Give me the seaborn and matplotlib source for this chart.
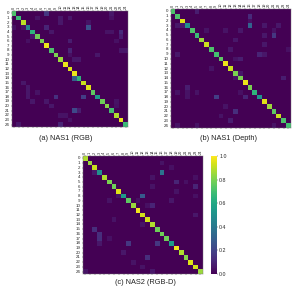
import numpy as np
import seaborn as sns
import matplotlib.pyplot as plt

labels = [str(i) for i in range(25)]

diag_a = [.72, .68, .90, .45, .65, .78, .80, .97, .72, .80, .85, .97, .95,
          .97, .65, .92, .95, .75, .55, .78, .82, .70, .88, .97, .68]
diag_b = [.72, .72, .95, .50, .72, .68, .85, .92, .72, .70, .75, .97, .92,
          .80, .80, .97, .80, .65, .52, .95, .85, .75, .92, .72, .70]
diag_c = [.88, .85, .92, .50, .88, .80, .78, .95, .55, .75, .85, .98, .93,
          .93, .88, .78, .78, .78, .55, .98, .88, .82, .95, .93, .85]

# off diagonal confusions as (row, col, value)
off_a = [(0, 7, .16), (0, 21, .06), (1, 21, .04), (1, 5, .05), (1, 10, .06), (2, 10, .06),
         (1, 12, .06), (3, 0, .04), (3, 2, .04), (3, 7, .10), (3, 16, .25), (2, 16, .05),
         (4, 20, .05), (4, 21, .05), (4, 23, .12), (5, 23, .08), (4, 8, .06), (5, 4, .06),
         (6, 3, .04), (6, 12, .08), (6, 22, .04), (8, 12, .10), (9, 12, .04), (8, 23, .06),
         (8, 24, .06), (9, 18, .06), (10, 13, .06), (10, 14, .06), (14, 13, .30), (15, 2, .06),
         (16, 3, .06), (17, 3, .06), (18, 3, .06), (17, 5, .05), (18, 9, .14), (18, 15, .18),
         (19, 4, .06), (19, 7, .06), (19, 22, .05), (20, 8, .06), (20, 22, .04), (21, 13, .22),
         (21, 14, .08), (22, 10, .05), (22, 11, .05), (23, 12, .05), (24, 1, .06), (24, 10, .10)]
off_b = [(0, 5, .08), (1, 16, .12), (2, 16, .04), (3, 16, .32), (3, 1, .06), (3, 2, .06),
         (3, 19, .06), (3, 22, .06), (4, 7, .05), (4, 11, .05), (4, 14, .06), (4, 21, .05),
         (5, 19, .06), (5, 21, .16), (6, 13, .06), (7, 19, .06), (8, 12, .06), (8, 24, .04),
         (9, 1, .06), (9, 18, .10), (9, 19, .06), (10, 13, .05), (10, 14, .08), (12, 8, .05),
         (13, 14, .06), (14, 13, .05), (14, 23, .08), (16, 3, .08), (17, 1, .05), (17, 3, .05),
         (17, 5, .05), (17, 14, .04), (18, 3, .05), (18, 9, .18), (18, 15, .10), (20, 11, .05),
         (21, 13, .13), (22, 10, .05), (23, 12, .08), (24, 1, .05), (24, 5, .05), (24, 21, .05)]
off_c = [(1, 16, .05), (2, 18, .04), (3, 16, .38), (3, 2, .06), (4, 14, .05), (4, 23, .04),
         (5, 19, .10), (5, 21, .04), (6, 14, .05), (6, 23, .10), (7, 19, .05), (8, 7, .05),
         (8, 12, .28), (8, 23, .04), (9, 5, .05), (9, 11, .04), (9, 18, .06), (10, 13, .04),
         (10, 14, .10), (12, 23, .06), (13, 6, .05), (14, 12, .05), (15, 2, .13), (16, 3, .13),
         (17, 3, .13), (17, 5, .04), (18, 3, .06), (18, 9, .16), (18, 15, .16), (20, 8, .06),
         (21, 13, .13), (22, 10, .05), (23, 12, .05), (24, 0, .05), (24, 14, .06)]

captions = ["(a) NAS1 (RGB)", "(b) NAS1 (Depth)", "(c) NAS2 (RGB-D)"]


def build_matrix(diag, off):
    mat = np.diag(diag)
    for r, c, v in off:
        mat[r, c] = v
    return mat


def px_rect(x0, y0, x1, y1, w=296, h=287):
    return [x0 / w, 1 - y1 / h, (x1 - x0) / w, (y1 - y0) / h]


def draw_matrix(ax, diag, off, cbar_ax=None):
    sns.heatmap(build_matrix(diag, off), ax=ax, cmap="viridis", vmin=0, vmax=1,
                cbar=cbar_ax is not None, cbar_ax=cbar_ax, square=False,
                xticklabels=labels, yticklabels=labels)
    # ticks on both sides, labels only on top and left
    ax.tick_params(axis="x", top=True, bottom=True, labeltop=True, labelbottom=False,
                   labelsize=2.8, labelrotation=90, length=1, width=0.3, pad=0.5)
    ax.tick_params(axis="y", left=True, labelsize=3.2, labelrotation=0, length=1, width=0.3, pad=0.5)
    for s in ax.spines.values():
        s.set_visible(True)
        s.set_linewidth(0.3)
        s.set_color("#777777")


sns.set_theme(style="white")
plt.rcParams["font.family"] = ["Liberation Sans", "DejaVu Sans"]

fig = plt.figure(figsize=(2.96, 2.87), dpi=100)
ax_a = fig.add_axes(px_rect(11.7, 11, 128, 127))
ax_b = fig.add_axes(px_rect(170.7, 9, 290.7, 128))
ax_c = fig.add_axes(px_rect(82.7, 156, 202.7, 274))
ax_cb = fig.add_axes(px_rect(210.7, 156, 216.7, 274))

draw_matrix(ax_a, diag_a, off_a)
draw_matrix(ax_b, diag_b, off_b)
draw_matrix(ax_c, diag_c, off_c, cbar_ax=ax_cb)

ax_cb.set_yticks([0, .2, .4, .6, .8, 1.0])
ax_cb.set_yticklabels(["0.0", "0.2", "0.4", "0.6", "0.8", "1.0"])
ax_cb.tick_params(right=True, labelsize=3.8, length=1, width=0.3, pad=0.8)

fig.text(66 / 296, 1 - 139 / 287, captions[0], ha="center", va="center", fontsize=5.3, color="#222222")
fig.text(228 / 296, 1 - 139 / 287, captions[1], ha="center", va="center", fontsize=5.3, color="#222222")
fig.text(145 / 296, 1 - 282 / 287, captions[2], ha="center", va="center", fontsize=5.3, color="#222222")

fig.savefig("out.png", dpi=100)
